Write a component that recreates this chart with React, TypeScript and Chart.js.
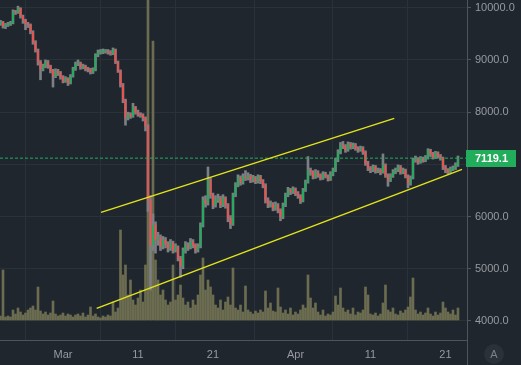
import React, { useEffect, useRef } from "react";
import { Chart, registerables } from "chart.js";

Chart.register(...registerables);

// ---- data (8-hour candles, x = days relative to Mar 1, 2020) ----
const START_DAY = -25 / 3;
const STEP_DAYS = 1 / 3;
const FIRST_OPEN = 9700;

const CLOSES = [
  9726, 9650, 9669, 9690, 9710, 9920, 9915, 9990, 9840, 9765,
  9690, 9670, 9535, 9345, 9190, 8960, 8830, 8880, 8960, 8880,
  8790, 8690, 8790, 8750, 8670, 8600, 8640, 8560, 8690, 8830,
  8920, 8940, 8860, 8880, 8830, 8810, 8770, 8810, 9095, 9150,
  9150, 9170, 9170, 9150, 9130, 9190, 8960, 8790, 8520, 8230,
  7890, 7960, 7925, 8095, 8000, 7960, 7945, 7890, 7735, 6316,
  5453, 5836, 5549, 5590, 5430, 5549, 5470, 5395, 5490, 5357,
  5415, 5200, 5050, 5357, 5453, 5415, 5510, 5453, 5357, 5430,
  5836, 6316, 6260, 6700, 6410, 6220, 6316, 6355, 6220, 6355,
  6220, 5970, 5855, 6410, 6603, 6740, 6660, 6760, 6740, 6780,
  6700, 6740, 6680, 6760, 6680, 6603, 6316, 6220, 6240, 6160,
  6220, 6124, 5990, 6220, 6410, 6507, 6470, 6525, 6450, 6395,
  6300, 6507, 6660, 6890, 6850, 6760, 6850, 6795, 6740, 6815,
  6780, 6720, 6815, 6890, 7082, 7235, 7370, 7350, 7275, 7390,
  7330, 7370, 7310, 7275, 7310, 7235, 7025, 6930, 6890, 6950,
  6870, 6890, 6850, 6986, 6795, 6700, 6780, 6850, 6890, 6950,
  6850, 6890, 6780, 6640, 6740, 7082, 7100, 7045, 7100, 7082,
  7120, 7275, 7195, 7140, 7215, 7160, 7120, 6950, 6890, 6850,
  6910, 6930, 6986, 7119.1,
];

const HIGHS = [
  9760, 9740, 9700, 9720, 9740, 9960, 9950, 10030, 10000, 9860,
  9780, 9720, 9690, 9560, 9370, 9210, 8990, 8920, 9000, 8990,
  8900, 8820, 8830, 8820, 8780, 8700, 8680, 8660, 8720, 8860,
  8960, 9000, 8960, 8920, 8900, 8860, 8840, 8850, 9120, 9190,
  9200, 9210, 9200, 9200, 9180, 9230, 9210, 8980, 8810, 8550,
  8250, 8000, 7990, 8170, 8110, 8040, 7990, 7970, 7910, 7760,
  6400, 6050, 5900, 5700, 5650, 5620, 5600, 5520, 5560, 5530,
  5480, 5440, 5240, 5400, 5520, 5500, 5580, 5560, 5480, 5480,
  5880, 6380, 6400, 6950, 6740, 6450, 6400, 6430, 6390, 6420,
  6380, 6250, 6020, 6450, 6650, 6800, 6780, 6820, 6880, 6840,
  6810, 6790, 6770, 6800, 6790, 6710, 6630, 6360, 6300, 6270,
  6280, 6250, 6150, 6260, 6450, 6560, 6540, 6570, 6550, 6480,
  6420, 6540, 6700, 7150, 6930, 6880, 6900, 6880, 6820, 6860,
  6850, 6800, 6860, 6930, 7120, 7280, 7420, 7440, 7380, 7430,
  7420, 7410, 7400, 7340, 7350, 7340, 7260, 7060, 6960, 6990,
  6980, 6930, 6920, 7200, 7010, 6820, 6820, 6900, 6930, 6990,
  6980, 6930, 6910, 6800, 6780, 7120, 7160, 7130, 7150, 7140,
  7170, 7300, 7290, 7230, 7250, 7240, 7190, 7140, 6980, 6920,
  6950, 6970, 7030, 7160,
];

const LOWS = [
  9660, 9610, 9600, 9640, 9660, 9690, 9870, 9890, 9800, 9700,
  9580, 9620, 9500, 9300, 9150, 8900, 8620, 8790, 8850, 8840,
  8750, 8480, 8660, 8700, 8630, 8560, 8570, 8510, 8540, 8670,
  8800, 8890, 8820, 8830, 8790, 8770, 8730, 8740, 8790, 9060,
  9110, 9120, 9130, 9110, 9090, 9100, 8930, 8760, 8480, 8180,
  7750, 7850, 7880, 7900, 7960, 7920, 7900, 7830, 7640, 6100,
  4590, 5350, 5300, 5450, 5350, 5380, 5400, 5320, 5350, 5300,
  5320, 5150, 4840, 5000, 5300, 5350, 5380, 5400, 5300, 5320,
  5400, 5800, 6180, 6220, 6350, 6150, 6180, 6270, 6170, 6190,
  6160, 5900, 5770, 5830, 6380, 6570, 6600, 6620, 6690, 6700,
  6650, 6660, 6630, 6640, 6630, 6550, 6260, 6170, 6180, 6110,
  6120, 6070, 5920, 5960, 6190, 6380, 6420, 6440, 6400, 6350,
  6250, 6280, 6480, 6640, 6790, 6720, 6730, 6750, 6700, 6710,
  6740, 6680, 6690, 6780, 6860, 7050, 7200, 7300, 7230, 7250,
  7290, 7300, 7270, 7230, 7250, 7190, 6980, 6880, 6840, 6860,
  6830, 6840, 6800, 6830, 6750, 6580, 6670, 6750, 6820, 6860,
  6810, 6820, 6740, 6550, 6600, 6720, 7040, 7000, 7020, 7040,
  7050, 7100, 7150, 7100, 7110, 7120, 7080, 6900, 6840, 6810,
  6830, 6880, 6900, 6960,
];

const VOLUMES = [
  4, 50, 3, 4, 3, 10, 6, 12, 8, 5,
  7, 10, 12, 14, 10, 33, 9, 6, 8, 5,
  7, 19, 6, 4, 5, 7, 4, 6, 5, 3,
  5, 6, 4, 7, 3, 5, 13, 4, 6, 3,
  2, 4, 3, 5, 4, 18, 8, 12, 90, 45,
  55, 25, 40, 20, 15, 22, 30, 18, 55, 320,
  80, 279, 60, 40, 25, 30, 20, 15, 18, 55,
  20, 25, 35, 22, 15, 18, 12, 20, 15, 25,
  45, 62, 30, 40, 33, 25, 15, 12, 20, 10,
  18, 23, 15, 52, 12, 10, 15, 8, 34, 10,
  8, 6, 9, 7, 10, 8, 29, 12, 17, 9,
  8, 32, 13, 7, 10, 6, 12, 5, 8, 6,
  10, 15, 12, 45, 22, 12, 17, 8, 5, 10,
  4, 6, 5, 8, 24, 15, 32, 12, 8, 10,
  6, 12, 5, 8, 7, 10, 33, 25, 6, 5,
  7, 4, 6, 17, 35, 10, 8, 12, 6, 5,
  9, 7, 10, 13, 23, 42, 10, 6, 8, 5,
  7, 12, 6, 4, 8, 5, 7, 18, 12, 8,
  6, 10, 5, 12,
];

const X_TICK_DAYS = [0, 10, 20, 31, 41, 51];
const X_TICK_LABELS = ["Mar", "11", "21", "Apr", "11", "21"];
const Y_TICK_VALUES = [4000, 5000, 6000, 7000, 8000, 9000, 10000];

const UPPER_TREND = [
  { x: 5.07, y: 6080 },
  { x: 44.17, y: 7881 },
];
const LOWER_TREND = [
  { x: 4.49, y: 4241 },
  { x: 53.2, y: 6904 },
];

const X_MIN = -8.4;
const X_MAX = 53.87;
const Y_MIN = 3636;
const Y_MAX = 10148;
const VOL_MIN = -20;
const VOL_MAX = 320;

// ---- styles ----
const BG = "#1f262d";
const GRID = "#29313a";
const AXIS = "#4e545c";
const TEXT = "#979aa0";
const UP = "#22ad5c";
const DOWN = "#f0524f";
const WICK = "#7c7f84";
const VOL = "#6c6c50";
const TREND = "#e3e31a";
const FONT = "Liberation Sans, Arial, sans-serif";

export default function App() {
  const ref = useRef<HTMLCanvasElement | null>(null);

  useEffect(() => {
    if (!ref.current) return;
    const times = CLOSES.map((_, i) => START_DAY + i * STEP_DAYS);
    const opens = CLOSES.map((_, i) => (i === 0 ? FIRST_OPEN : CLOSES[i - 1]));
    const last = CLOSES[CLOSES.length - 1];

    const overlay = {
      id: "overlay",
      afterDraw(chart: any) {
        const { ctx, chartArea, scales } = chart;
        ctx.save();
        ctx.strokeStyle = AXIS;
        ctx.lineWidth = 1;
        ctx.beginPath();
        ctx.moveTo(Math.round(chartArea.right) + 0.5, 0);
        ctx.lineTo(Math.round(chartArea.right) + 0.5, chart.height);
        ctx.moveTo(0, Math.round(chartArea.bottom) + 0.5);
        ctx.lineTo(chartArea.right, Math.round(chartArea.bottom) + 0.5);
        ctx.stroke();

        const y = scales.y.getPixelForValue(last);
        ctx.fillStyle = UP;
        ctx.fillRect(Math.round(chartArea.right) - 1, Math.round(y - 8.5), 50, 17);
        ctx.fillStyle = "#ffffff";
        ctx.font = "bold 11px " + FONT;
        ctx.textBaseline = "middle";
        ctx.textAlign = "left";
        ctx.fillText(last.toFixed(1), chartArea.right + 8, y + 0.5);

        const cx = chartArea.right + 27;
        const cy = chartArea.bottom + 14;
        ctx.fillStyle = "#2a3139";
        ctx.beginPath();
        ctx.arc(cx, cy, 10, 0, Math.PI * 2);
        ctx.fill();
        ctx.fillStyle = "#7d8188";
        ctx.font = "11px " + FONT;
        ctx.textAlign = "center";
        ctx.fillText("A", cx, cy + 0.5);
        ctx.restore();
      },
    };

    const chart = new Chart(ref.current, {
      type: "bar",
      data: {
        datasets: [
          {
            type: "line",
            data: UPPER_TREND,
            borderColor: TREND,
            borderWidth: 1.5,
            pointRadius: 0,
            yAxisID: "y",
            order: 0,
          } as any,
          {
            type: "line",
            data: LOWER_TREND,
            borderColor: TREND,
            borderWidth: 1.5,
            pointRadius: 0,
            yAxisID: "y",
            order: 0,
          } as any,
          {
            type: "line",
            data: [
              { x: X_MIN, y: last },
              { x: X_MAX, y: last },
            ],
            borderColor: UP,
            borderWidth: 1,
            borderDash: [3, 2],
            pointRadius: 0,
            yAxisID: "y",
            order: 5,
          } as any,
          {
            type: "bar",
            data: CLOSES.map((c, i) => ({
              x: times[i],
              y: [Math.min(opens[i], c), Math.max(opens[i], c)],
            })),
            backgroundColor: CLOSES.map((c, i) => (c >= opens[i] ? UP : DOWN)),
            barThickness: 1.2,
            minBarLength: 1,
            grouped: false,
            yAxisID: "y",
            order: 10,
          } as any,
          {
            type: "bar",
            data: CLOSES.map((_, i) => ({ x: times[i], y: [LOWS[i], HIGHS[i]] })),
            backgroundColor: WICK,
            barThickness: 2,
            grouped: false,
            yAxisID: "y",
            order: 20,
          } as any,
          {
            type: "bar",
            data: VOLUMES.map((v, i) => ({ x: times[i], y: v })),
            backgroundColor: VOL,
            barThickness: 2,
            grouped: false,
            yAxisID: "yv",
            order: 30,
          } as any,
        ],
      },
      options: {
        responsive: false,
        animation: false,
        devicePixelRatio: 1,
        layout: { padding: 0 },
        plugins: { legend: { display: false }, tooltip: { enabled: false } },
        scales: {
          x: {
            type: "linear",
            min: X_MIN,
            max: X_MAX,
            offset: false,
            grid: { color: GRID, drawTicks: false, tickLength: 0 },
            border: { display: false },
            ticks: {
              color: TEXT,
              font: { family: FONT, size: 11 },
              padding: 8,
              autoSkip: false,
              maxRotation: 0,
              callback: (_v: any, idx: number) => X_TICK_LABELS[idx] ?? "",
            },
            afterBuildTicks: (s: any) => {
              s.ticks = X_TICK_DAYS.map((v) => ({ value: v }));
            },
            afterFit: (s: any) => {
              s.height = 25;
              s.paddingLeft = 0;
              s.paddingRight = 0;
            },
          },
          y: {
            type: "linear",
            position: "right",
            min: Y_MIN,
            max: Y_MAX,
            grid: { color: GRID, tickLength: 4, tickColor: AXIS },
            border: { display: false },
            ticks: {
              color: TEXT,
              font: { family: FONT, size: 11 },
              padding: 4,
              callback: (v: any) => Number(v).toFixed(1),
            },
            afterBuildTicks: (s: any) => {
              s.ticks = Y_TICK_VALUES.map((v) => ({ value: v }));
            },
            afterFit: (s: any) => {
              s.width = 54;
              s.paddingTop = 0;
              s.paddingBottom = 0;
            },
          },
          yv: {
            type: "linear",
            display: false,
            min: VOL_MIN,
            max: VOL_MAX,
          },
        },
      } as any,
      plugins: [overlay],
    });
    return () => chart.destroy();
  }, []);

  return (
    <div
      style={{
        position: "fixed",
        left: 0,
        top: 0,
        width: 521,
        height: 365,
        background: BG,
      }}
    >
      <canvas ref={ref} width={521} height={365} style={{ display: "block" }} />
    </div>
  );
}
